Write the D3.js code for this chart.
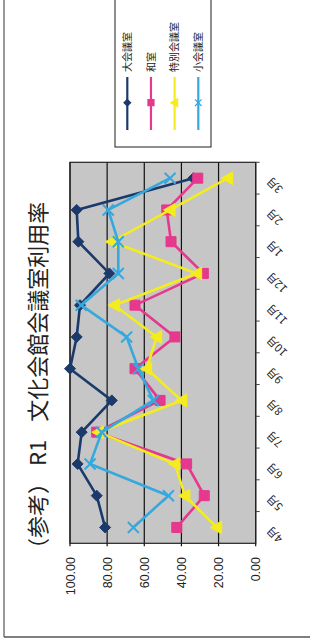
<!DOCTYPE html>
<html lang="ja">
<head>
<meta charset="UTF-8">
<title>R1 文化会館会議室利用率</title>
<script src="https://d3js.org/d3.v7.min.js"></script>
<style>
  body { margin: 0; background: #fff; }
  text { font-family: "Noto Sans CJK JP", "Noto Sans", sans-serif; fill: #222; }
  .num { font-family: "Liberation Sans", Arial, sans-serif; }
</style>
</head>
<body>
<svg id="chart" width="310" height="642"></svg>
<script>
// データ（月別利用率 %）
const months = ["4月", "5月", "6月", "7月", "8月", "9月", "10月", "11月", "12月", "1月", "2月", "3月"];
const seriesNames = ["大会議室", "和室", "特別会議室", "小会議室"];
const largeRoom   = [81.1, 85.6, 95.9, 93.7, 77.5, 100.0, 96.4, 94.6, 78.8, 95.5, 96.4, 33.6];
const japaneseRoom = [42.5, 27.7, 37.2, 85.6, 51.5, 65.0, 43.5, 65.0, 28.2, 45.6, 47.9, 31.2];
const specialRoom = [21.0, 38.1, 43.5, 84.7, 39.9, 58.7, 53.3, 76.1, 31.8, 77.5, 46.1, 15.1];
const smallRoom   = [65.9, 47.0, 89.2, 82.9, 55.1, 63.2, 69.5, 94.0, 74.0, 74.0, 79.4, 46.1];
const valueTicks = [0, 20, 40, 60, 80, 100];

const series = [
  { name: seriesNames[0], values: largeRoom,    color: "#1b3a6b", marker: "diamond" },
  { name: seriesNames[1], values: japaneseRoom, color: "#e6388c", marker: "square" },
  { name: seriesNames[2], values: specialRoom,  color: "#f4ec1e", marker: "triangle" },
  { name: seriesNames[3], values: smallRoom,    color: "#35a9de", marker: "cross" }
];

const svg = d3.select("#chart");

// 外枠
svg.append("line").attr("x1", 4).attr("y1", 0).attr("x2", 4).attr("y2", 637)
  .attr("stroke", "#555").attr("stroke-width", 1.2);
svg.append("line").attr("x1", 4).attr("y1", 637).attr("x2", 310).attr("y2", 637)
  .attr("stroke", "#555").attr("stroke-width", 1.5);

// 図は90度回転している: 値は横方向、月は縦方向（下が4月）
const pLeft = 70, pRight = 255.7, pTop = 162.3, pBottom = 543.3;
const x = d3.scaleLinear().domain([0, 100]).range([pRight, pLeft]);
const y = d3.scaleBand().domain(months).range([pBottom, pTop]);
const yc = m => y(m) + y.bandwidth() / 2;

// プロットエリア
svg.append("rect").attr("x", pLeft).attr("y", pTop)
  .attr("width", pRight - pLeft).attr("height", pBottom - pTop)
  .attr("fill", "#c6c6c6");

// 目盛線
svg.append("g").selectAll("line").data(valueTicks).join("line")
  .attr("x1", d => x(d)).attr("x2", d => x(d))
  .attr("y1", pTop).attr("y2", pBottom + 3)
  .attr("stroke", "#111").attr("stroke-width", 1.2);

svg.append("rect").attr("x", pLeft).attr("y", pTop)
  .attr("width", pRight - pLeft).attr("height", pBottom - pTop)
  .attr("fill", "none").attr("stroke", "#222").attr("stroke-width", 1.2);

// 値ラベル
svg.append("g").selectAll("text").data(valueTicks).join("text")
  .attr("class", "num")
  .attr("transform", d => `translate(${x(d)},557) rotate(-90)`)
  .attr("text-anchor", "end").attr("dy", "0.36em")
  .attr("font-size", 12.5)
  .text(d3.format(".2f"));

// 月の目盛
svg.append("g").selectAll("line").data(months).join("line")
  .attr("x1", pRight).attr("x2", pRight + 4)
  .attr("y1", d => y(d)).attr("y2", d => y(d))
  .attr("stroke", "#444").attr("stroke-width", 1);

// 月ラベル（斜め）
svg.append("g").selectAll("text").data(months).join("text")
  .attr("transform", d => `translate(${pRight + 13},${yc(d) + 1}) rotate(-135)`)
  .attr("text-anchor", "end").attr("dy", "0.36em")
  .attr("font-size", 11)
  .text(d => d);

// マーカー
function markerPath(type) {
  if (type === "diamond") return "M0,-5.5L5.5,0L0,5.5L-5.5,0Z";
  if (type === "square") return "M-5,-5H5V5H-5Z";
  if (type === "triangle") return "M-6.5,0L5,-6.5L5,6.5Z";
  return "M-5.5,-5.5L5.5,5.5M5.5,-5.5L-5.5,5.5";
}

const line = d3.line().x(d => x(d.v)).y(d => yc(d.m));

series.forEach(s => {
  const pts = months.map((m, i) => ({ m: m, v: s.values[i] }));
  const g = svg.append("g");
  g.append("path").datum(pts).attr("d", line)
    .attr("fill", "none").attr("stroke", s.color).attr("stroke-width", 2.6);
  g.selectAll("path.mk").data(pts).join("path").attr("class", "mk")
    .attr("transform", d => `translate(${x(d.v)},${yc(d.m)})`)
    .attr("d", markerPath(s.marker))
    .attr("fill", s.marker === "cross" ? "none" : s.color)
    .attr("stroke", s.color).attr("stroke-width", s.marker === "cross" ? 2 : 1);
});

// 凡例
const legend = svg.append("g");
legend.append("rect").attr("x", 115).attr("y", -2).attr("width", 96).attr("height", 149)
  .attr("fill", "#fff").attr("stroke", "#444").attr("stroke-width", 1.2);
const lx = d3.scalePoint().domain(seriesNames).range([127.3, 198.3]);
series.forEach(s => {
  const cx = lx(s.name);
  legend.append("line").attr("x1", cx).attr("x2", cx).attr("y1", 77).attr("y2", 130)
    .attr("stroke", s.color).attr("stroke-width", 2.2);
  legend.append("path").attr("transform", `translate(${cx},102.7) scale(0.6)`)
    .attr("d", markerPath(s.marker))
    .attr("fill", s.marker === "cross" ? "none" : s.color)
    .attr("stroke", s.color).attr("stroke-width", 2);
  legend.append("text")
    .attr("transform", `translate(${cx},72) rotate(-90)`)
    .attr("dy", "0.36em").attr("font-size", 10)
    .text(s.name);
});

// タイトル
const title = svg.append("text")
  .attr("transform", "translate(38,560) rotate(-90)")
  .attr("dy", "0.36em").attr("font-size", 22);
title.append("tspan").text("（参考）");
title.append("tspan").attr("dx", 6).text("R1");
title.append("tspan").attr("dx", 18).text("文化会館会議室利用率");
</script>
</body>
</html>
